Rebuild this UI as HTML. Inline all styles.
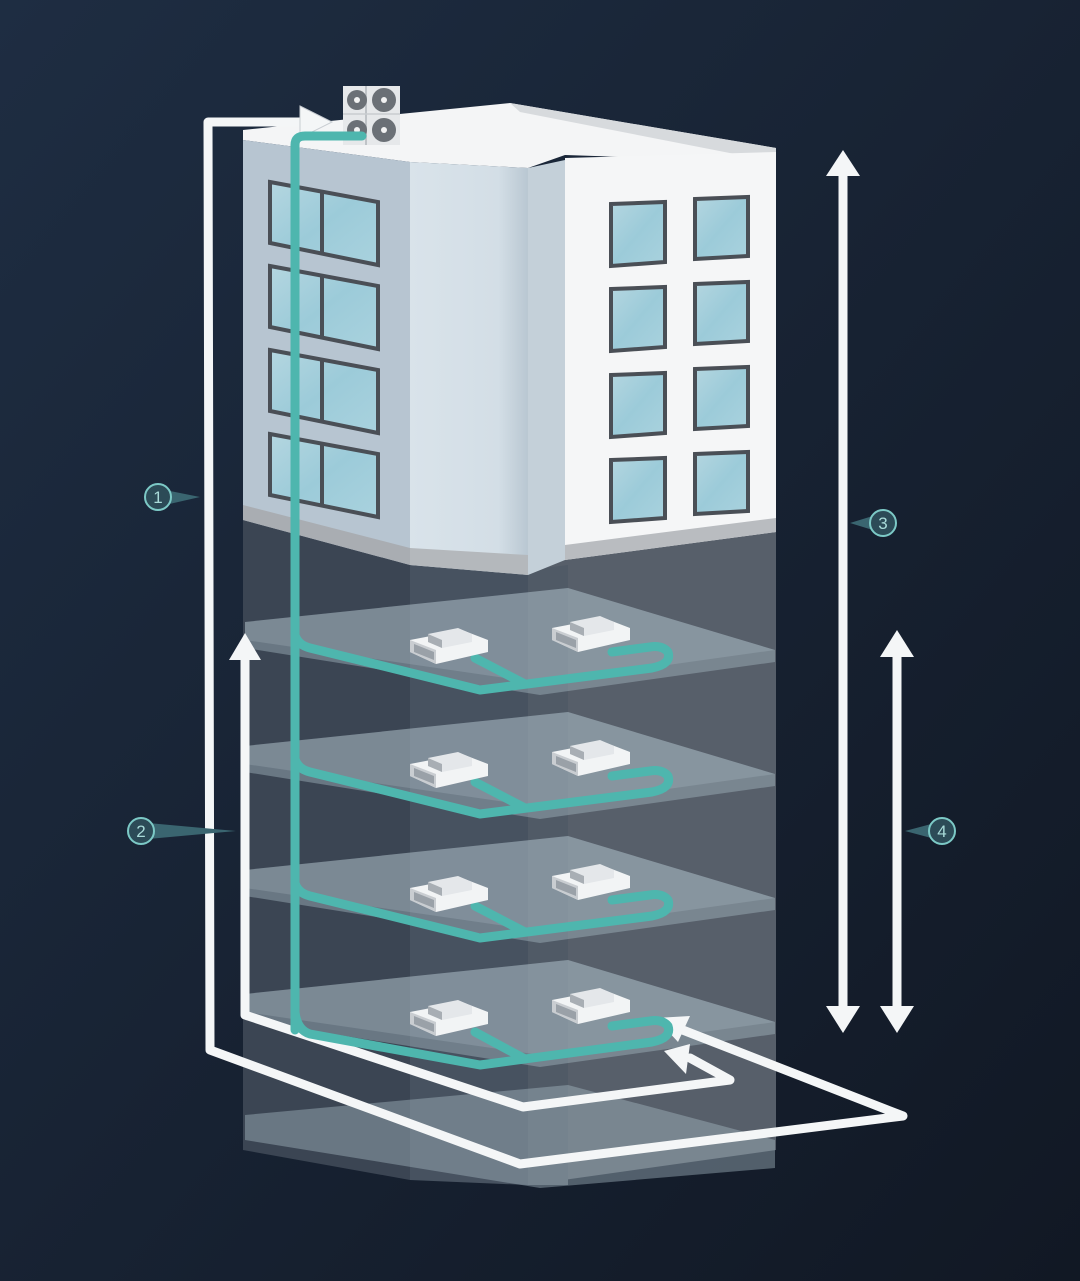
<!DOCTYPE html>
<html><head><meta charset="utf-8"><style>
html,body{margin:0;padding:0;width:1080px;height:1281px;overflow:hidden;background:#151e2d}
svg{display:block}
</style></head><body>
<svg width="1080" height="1281" viewBox="0 0 1080 1281" xmlns="http://www.w3.org/2000/svg">
<defs>
<linearGradient id="bg" x1="0" y1="0" x2="1" y2="1">
<stop offset="0" stop-color="#1e2d42"/><stop offset="1" stop-color="#111824"/>
</linearGradient>
<linearGradient id="mid" x1="0" y1="0" x2="1" y2="0">
<stop offset="0" stop-color="#d9e3ea"/><stop offset="0.75" stop-color="#d3dee6"/><stop offset="1" stop-color="#b9c7d2"/>
</linearGradient>
<linearGradient id="glass" x1="0" y1="0" x2="1" y2="1">
<stop offset="0" stop-color="#b4d6e0"/><stop offset="0.5" stop-color="#9ccbd9"/><stop offset="1" stop-color="#a9d2de"/>
</linearGradient>
<g id="unit">
<polygon points="0,10 52,0 78,10 78,22 26,34 0,22" fill="#f2f4f5"/>
<polygon points="0,10 26,20 26,34 0,22" fill="#c9cdd1"/>
<polygon points="4,14 24,22 24,30 4,22" fill="#9aa1a8"/>
<polygon points="18,4 48,-2 62,4 62,12 32,18 18,12" fill="#e4e7ea"/>
<polygon points="18,4 32,10 32,18 18,12" fill="#a8aeb4"/>
</g>
</defs>
<rect width="1080" height="1281" fill="url(#bg)"/>

<!-- lower transparent part -->
<polygon points="243,520 410,560 410,1180 243,1150" fill="#3b4553"/>
<polygon points="410,560 528,572 528,1185 410,1180" fill="#475260"/>
<polygon points="528,560 776,530 776,1150 528,1185" fill="#575f6a"/>
<polygon points="528,570 568,565 568,1185 528,1185" fill="#505a66"/>

<!-- floors -->
<g fill="#a9bcc6" fill-opacity="0.42">
<polygon points="245,622 568,588 775,650 775,662 540,695 245,648"/>
<polygon points="245,746 568,712 775,774 775,786 540,819 245,772"/>
<polygon points="245,870 568,836 775,898 775,910 540,943 245,896"/>
<polygon points="245,994 568,960 775,1022 775,1034 540,1067 245,1020"/>
<polygon points="245,1115 568,1085 775,1140 775,1168 540,1188 245,1140"/>
</g>
<g fill="#c3d3db" fill-opacity="0.2">
<polygon points="245,622 568,588 775,650 540,683 245,640"/>
<polygon points="245,746 568,712 775,774 540,807 245,764"/>
<polygon points="245,870 568,836 775,898 540,931 245,888"/>
<polygon points="245,994 568,960 775,1022 540,1055 245,1012"/>
</g>

<!-- upper building -->
<polygon points="243,130 340,120 510,103 776,148 776,162 565,155 528,168 410,162 243,140" fill="#f4f5f6"/>
<polygon points="510,103 776,148 776,162 520,112" fill="#d7dadd"/>
<polygon points="243,140 410,162 410,565 243,520" fill="#b7c5d1"/>
<polygon points="410,162 528,168 528,575 410,565" fill="url(#mid)"/>
<polygon points="528,168 565,160 565,560 528,575" fill="#c4d0d9"/>
<polygon points="565,158 776,152 776,532 565,560" fill="#f5f6f7"/>
<!-- base stripes -->
<polygon points="243,505 410,548 410,565 243,520" fill="#a9adb2"/>
<polygon points="410,548 528,555 528,575 410,565" fill="#b4b8bc"/>
<polygon points="565,545 776,518 776,532 565,560" fill="#b9bcc0"/>

<!-- left windows -->
<g stroke="#4a4f56" stroke-width="4" fill="url(#glass)">
<polygon points="270,182 378,202 378,265 270,243"/>
<polygon points="270,266 378,286 378,349 270,327"/>
<polygon points="270,350 378,370 378,433 270,411"/>
<polygon points="270,434 378,454 378,517 270,495"/>
</g>
<g stroke="#4a4f56" stroke-width="4">
<line x1="322" y1="192" x2="322" y2="253"/>
<line x1="322" y1="276" x2="322" y2="337"/>
<line x1="322" y1="360" x2="322" y2="421"/>
<line x1="322" y1="444" x2="322" y2="505"/>
</g>
<!-- right windows -->
<g stroke="#4a4f56" stroke-width="4" fill="url(#glass)">
<polygon points="611,204 665,202 665,262 611,266"/><polygon points="695,199 748,197 748,256 695,259"/>
<polygon points="611,289 665,287 665,347 611,351"/><polygon points="695,284 748,282 748,341 695,344"/>
<polygon points="611,375 665,373 665,433 611,437"/><polygon points="695,369 748,367 748,426 695,429"/>
<polygon points="611,460 665,458 665,518 611,522"/><polygon points="695,454 748,452 748,511 695,514"/>
</g>

<!-- outdoor unit -->
<rect x="343" y="86" width="57" height="59" fill="#e6e8ea"/>
<line x1="366" y1="86" x2="366" y2="145" stroke="#bfc3c7" stroke-width="2"/>
<line x1="343" y1="114" x2="400" y2="114" stroke="#c8ccd0" stroke-width="1.5"/>
<g fill="#6b7076"><circle cx="357" cy="100" r="10"/><circle cx="384" cy="100" r="12"/><circle cx="357" cy="130" r="10"/><circle cx="384" cy="130" r="12"/></g>
<g fill="#f2f2f2"><circle cx="357" cy="100" r="3"/><circle cx="384" cy="100" r="3"/><circle cx="357" cy="130" r="3"/><circle cx="384" cy="130" r="3"/></g>

<!-- white arrows -->
<g fill="none" stroke="#f4f6f7" stroke-width="9" stroke-linejoin="round" stroke-linecap="round">
<path d="M312,122 L208,122 L210,1050 L520,1164 L903,1116 L675,1027"/>
<path d="M245,655 L245,1015 L523,1107 L730,1080 L690,1058"/>
<line x1="843" y1="172" x2="843" y2="1010"/>
<line x1="897" y1="652" x2="897" y2="1010"/>
</g>
<g fill="#f4f6f7">
<polygon points="300,106 332,122 300,138" stroke="#c8cdd2" stroke-width="1"/>
<polygon points="229,660 245,633 261,660"/>
<polygon points="826,176 843,150 860,176"/><polygon points="826,1006 843,1033 860,1006"/>
<polygon points="880,657 897,630 914,657"/><polygon points="880,1006 897,1033 914,1006"/>
<polygon points="656,1018 690,1016 678,1042"/>
<polygon points="664,1051 690,1044 686,1074"/>
</g>

<!-- teal pipes -->
<g fill="none" stroke="#4eb6ae" stroke-width="9" stroke-linecap="round" stroke-linejoin="round">
<path d="M295,1030 L295,145 Q295,136 305,136 L362,136"/>
<g id="br">
<path d="M295,635 Q298,645 310,648 L480,690 L652,668 Q672,664 668,652 Q662,645 650,647 L612,652"/>
<path d="M525,684 L475,658"/>
</g>
<use href="#br" y="124"/>
<use href="#br" y="248"/>
<path d="M295,1012 Q297,1030 310,1034 L480,1065 L652,1042 Q672,1038 668,1026 Q662,1019 650,1021 L612,1026"/>
<path d="M525,1059 L475,1032"/>
</g>
<!-- units -->
<use href="#unit" x="410" y="630"/><use href="#unit" x="552" y="618"/>
<use href="#unit" x="410" y="754"/><use href="#unit" x="552" y="742"/>
<use href="#unit" x="410" y="878"/><use href="#unit" x="552" y="866"/>
<use href="#unit" x="410" y="1002"/><use href="#unit" x="552" y="990"/>

<!-- labels -->
<g font-family="Liberation Sans, sans-serif" font-size="17" fill="#a9dbd9" text-anchor="middle">
<polygon points="165,490 200,497 165,505" fill="#3a6570"/>
<circle cx="158" cy="497" r="13" fill="#2c4b57" stroke="#7cc9c6" stroke-width="2"/>
<text x="158" y="503">1</text>
<polygon points="148,823 236,831 148,839" fill="#3a6570"/>
<circle cx="141" cy="831" r="13" fill="#2c4b57" stroke="#7cc9c6" stroke-width="2"/>
<text x="141" y="837">2</text>
<polygon points="876,515 850,523 876,531" fill="#3a6570"/>
<circle cx="883" cy="523" r="13" fill="#2c4b57" stroke="#7cc9c6" stroke-width="2"/>
<text x="883" y="529">3</text>
<polygon points="935,823 905,831 935,839" fill="#3a6570"/>
<circle cx="942" cy="831" r="13" fill="#2c4b57" stroke="#7cc9c6" stroke-width="2"/>
<text x="942" y="837">4</text>
</g>
</svg>
</body></html>
